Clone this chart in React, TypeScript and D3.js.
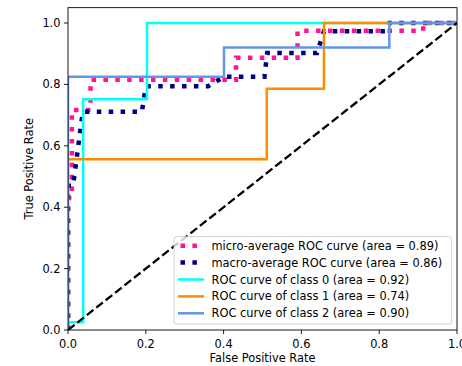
import React from "react";
import * as d3 from "d3";

const microFpr = [0, 0, 0.01, 0.01, 0.058, 0.058, 0.432, 0.432, 0.59, 0.59, 0.913, 0.913, 1];
const microTpr = [0, 0.43, 0.43, 0.717, 0.717, 0.815, 0.815, 0.887, 0.887, 0.975, 0.975, 1, 1];

const macroFpr = [0, 0, 0.013, 0.038, 0.19, 0.2, 0.36, 0.401, 0.505, 0.512, 0.64, 0.658, 0.815, 0.826, 1];
const macroTpr = [0, 0.47, 0.47, 0.711, 0.711, 0.794, 0.794, 0.825, 0.825, 0.902, 0.902, 0.973, 0.973, 1, 1];

const class0Fpr = [0, 0, 0.039, 0.039, 0.203, 0.203, 1];
const class0Tpr = [0, 0.025, 0.025, 0.752, 0.752, 1, 1];

const class1Fpr = [0, 0, 0.511, 0.511, 0.658, 0.658, 1];
const class1Tpr = [0, 0.556, 0.556, 0.786, 0.786, 1, 1];

const class2Fpr = [0, 0, 0.401, 0.401, 0.826, 0.826, 1];
const class2Tpr = [0, 0.825, 0.825, 0.92, 0.92, 1, 1];

const xTicks = [0, 0.2, 0.4, 0.6, 0.8, 1.0];
const yTicks = [0, 0.2, 0.4, 0.6, 0.8, 1.0];

const seriesLabels = [
  "micro-average ROC curve (area = 0.89)",
  "macro-average ROC curve (area = 0.86)",
  "ROC curve of class 0 (area = 0.92)",
  "ROC curve of class 1 (area = 0.74)",
  "ROC curve of class 2 (area = 0.90)",
];

const W = 462;
const H = 366;
const L = 68, R = 457, T = 7.65, B = 330;
const FONT = "DejaVu Sans, sans-serif";
const FS = 11.4;

export default function App() {
  const x = d3.scaleLinear().domain([0, 1]).range([L, R]);
  const y = d3.scaleLinear().domain([0, 1.05]).range([B, T]);
  const line = d3
    .line<[number, number]>()
    .x((d) => x(d[0]))
    .y((d) => y(d[1]));
  const pts = (a: number[], b: number[]) => a.map((v, i) => [v, b[i]] as [number, number]);

  const series = [
    { f: microFpr, t: microTpr, color: "#ff1493", w: 4.5, dash: "4.5 7.4" },
    { f: macroFpr, t: macroTpr, color: "#000080", w: 4.5, dash: "4.5 7.4" },
    { f: class0Fpr, t: class0Tpr, color: "#00ffff", w: 2.5, dash: undefined },
    { f: class1Fpr, t: class1Tpr, color: "#ff8c00", w: 2.5, dash: undefined },
    { f: class2Fpr, t: class2Tpr, color: "#6495ed", w: 2.5, dash: undefined },
  ];

  const legX = 174, legY = 236.7, legW = 277.7, legH = 87.3;
  const row0 = 245.7, rowStep = 16.9;

  return (
    <svg width={W} height={H} style={{ position: "absolute", left: 0, top: 0, background: "#fff" }} fontFamily={FONT}>
      <defs>
        <clipPath id="plotClip">
          <rect x={L} y={T} width={R - L} height={B - T} />
        </clipPath>
      </defs>
      <rect x={0} y={0} width={W} height={H} fill="#fff" />
      <g clipPath="url(#plotClip)">
        {series.map((s, i) => (
          <path
            key={i}
            d={line(pts(s.f, s.t)) || ""}
            fill="none"
            stroke={s.color}
            strokeWidth={s.w}
            strokeDasharray={s.dash}
            strokeLinecap="butt"
            strokeLinejoin="miter"
          />
        ))}
        <path
          d={line([[0, 0], [1, 1]]) || ""}
          fill="none"
          stroke="#000"
          strokeWidth={2.3}
          strokeDasharray="8.4 3.6"
        />
      </g>
      <rect x={L} y={T} width={R - L} height={B - T} fill="none" stroke="#000" strokeWidth={0.9} />
      {xTicks.map((v) => (
        <g key={"x" + v}>
          <line x1={x(v)} x2={x(v)} y1={B} y2={B + 4} stroke="#000" strokeWidth={0.9} />
          <text x={x(v)} y={B + 17.5} fontSize={FS} textAnchor="middle" fill="#000">
            {v.toFixed(1)}
          </text>
        </g>
      ))}
      {yTicks.map((v) => (
        <g key={"y" + v}>
          <line x1={L - 4} x2={L} y1={y(v)} y2={y(v)} stroke="#000" strokeWidth={0.9} />
          <text x={L - 7.5} y={y(v) + 4} fontSize={FS} textAnchor="end" fill="#000">
            {v.toFixed(1)}
          </text>
        </g>
      ))}
      <text x={(L + R) / 2} y={362} fontSize={FS} textAnchor="middle" fill="#000">
        False Positive Rate
      </text>
      <text
        transform={`translate(${33},${(T + B) / 2}) rotate(-90)`}
        fontSize={FS}
        textAnchor="middle"
        fill="#000"
      >
        True Positive Rate
      </text>
      <rect x={legX} y={legY} width={legW} height={legH} rx={2.5} ry={2.5} fill="#fff" fillOpacity={0.8} stroke="#cccccc" strokeWidth={0.9} />
      {series.map((s, i) => {
        const cy = row0 + i * rowStep;
        return (
          <g key={"leg" + i}>
            <line
              x1={178}
              x2={204}
              y1={cy}
              y2={cy}
              stroke={s.color}
              strokeWidth={s.w}
              strokeDasharray={s.dash}
              strokeDashoffset={s.dash ? -2.5 : undefined}
            />
            <text x={211.5} y={cy + 4} fontSize={FS} fill="#000">
              {seriesLabels[i]}
            </text>
          </g>
        );
      })}
    </svg>
  );
}
